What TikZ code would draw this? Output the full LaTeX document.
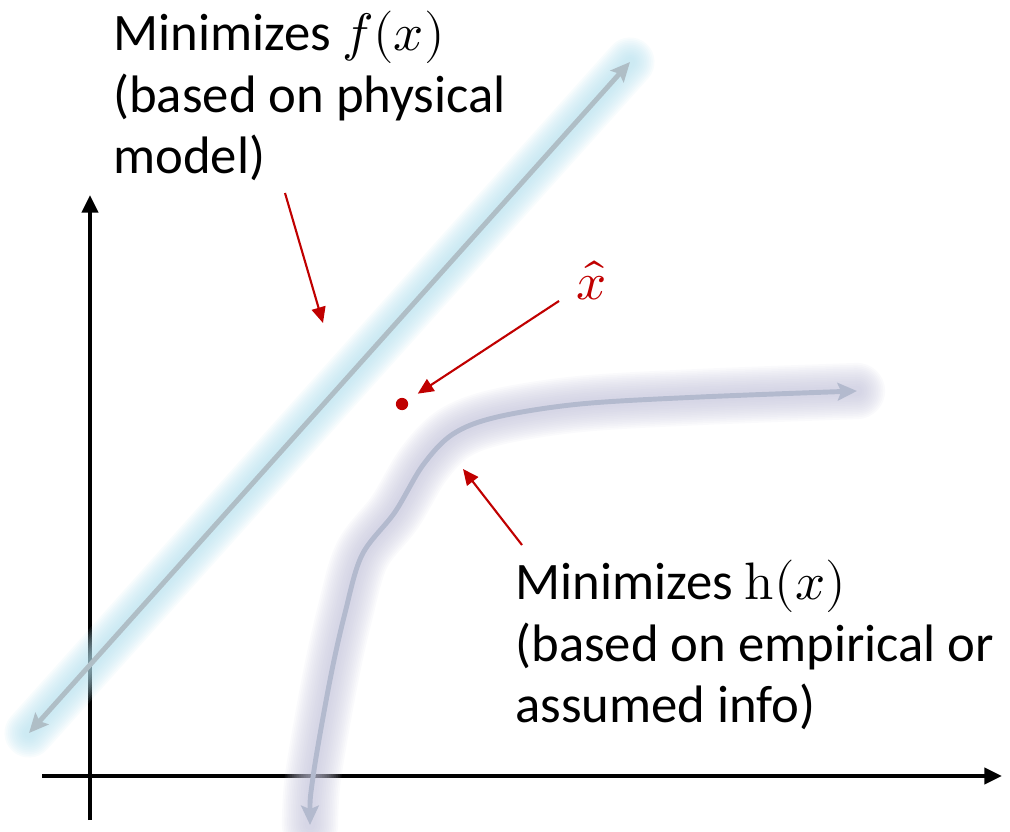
\documentclass[tikz,border=0pt]{standalone}
\usepackage{amsmath}
\usepackage{fontspec}
\usepackage{unicode-math}
\setmainfont{Carlito}
\setmathfont{Latin Modern Math}
\usepackage{xcolor}
\usetikzlibrary{arrows.meta}
\usetikzlibrary{positioning}

\definecolor{markred}{HTML}{C00000}
\definecolor{fline}{HTML}{AFBEC6}
\definecolor{fglow}{HTML}{B5E0EE}
\definecolor{hline}{HTML}{B3BACE}
\definecolor{hglow}{HTML}{C3C3DA}

\newcommand{\hpath}{plot[smooth, tension=0.55] coordinates {(310,825) (313,777) (330,680) (345,613) (362,555) (395,512) (423,465) (453,434) (497,417) (580,404) (700,397) (857,391)}}

\begin{document}
\begin{tikzpicture}[
        x=0.02cm, y=-0.02cm,
        axisline/.style={line width=2.3pt, -{Triangle[length=10pt, width=9pt]}},
        trend/.style={line width=2.8pt, line cap=round, {Stealth[length=11pt, width=10pt, inset=2pt]}-{Stealth[length=11pt, width=10pt, inset=2pt]}},
        pointer/.style={line width=1.2pt, color=markred, -{Triangle[length=9pt, width=8pt]}},
        note/.style={font=\fontsize{30}{35}\selectfont, align=left, inner sep=0pt, anchor=north west}
    ]

        \useasboundingbox (0,0) rectangle (1010,831);

        \coordinate (yBot) at (90,820);
        \coordinate (yTop) at (90,195);
        \coordinate (xLeft) at (42,776);
        \coordinate (xRight) at (1002,776);
        \draw[axisline] (yBot) -- (yTop);
        \draw[axisline] (xLeft) -- (xRight);

        \coordinate (fLo) at (29,733);
        \coordinate (fHi) at (630,62);
        \foreach \w in {6,8,...,28}
            \draw[fglow, line width=\w pt, opacity=0.09, line cap=round] (fLo) -- (fHi);
        \draw[trend, fline] (fLo) -- (fHi);

        \foreach \w in {6,8,...,32}
            \draw[hglow, line width=\w pt, opacity=0.08, line cap=round, line join=round] \hpath;
        \draw[trend, hline] \hpath;

        \node[note] (fnote) at (113,11) {Minimizes $f(x)$\\(based on physical\\model)};
        \node[note] (hnote) at (515,560) {Minimizes $\symup{h}(x)$\\(based on empirical or\\assumed info)};
        \node[font=\fontsize{30}{35}\selectfont, text=markred] (xhatlabel) at (592,280) {$\hat{x}$};
        \node[circle, fill=markred, minimum size=7pt, inner sep=0pt] (xhat) at (402,404) {};

        \coordinate (fFrom) at (285,193);
        \coordinate (fTip) at (323,323);
        \coordinate (hFrom) at (522,545);
        \coordinate (hTip) at (463,469);
        \coordinate (xhatFrom) at (559,301);

        \draw[pointer] (fFrom) -- (fTip);
        \draw[pointer] (hFrom) -- (hTip);
        \draw[pointer, shorten >=7pt] (xhatFrom) -- (xhat);
    \end{tikzpicture}
\end{document}
